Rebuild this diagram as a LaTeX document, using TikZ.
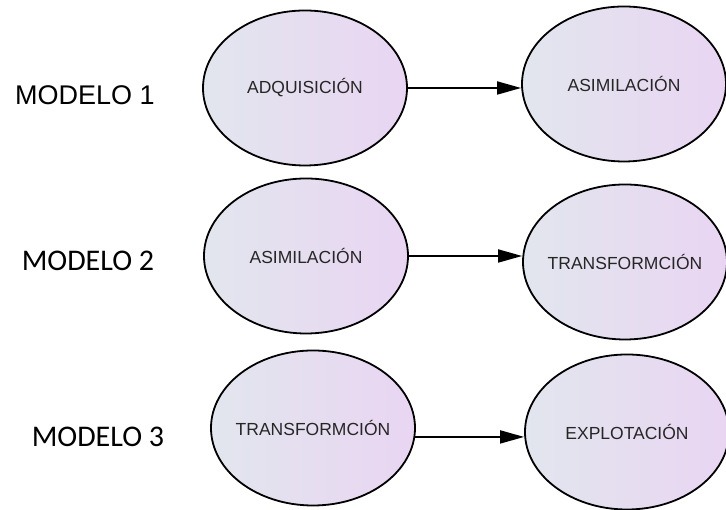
\documentclass[tikz,border=0pt]{standalone}
\usepackage{fontspec}
\setmainfont{Liberation Sans}
\newfontfamily\arialfont{Liberation Sans}
\newfontfamily\modfont{Carlito}
\usetikzlibrary{shapes.geometric,arrows.meta}
\definecolor{elipizq}{RGB}{226,230,238}
\definecolor{elipder}{RGB}{233,213,242}
\begin{document}
\begin{tikzpicture}[x=1pt,y=1pt]
\tikzset{fase/.style={ellipse,draw,line width=1.8pt,left color=elipizq,right color=elipder,minimum width=204pt,minimum height=155pt,inner xsep=-50pt,inner ysep=0pt,text=black!85,font=\arialfont\fontsize{17.5}{20}\selectfont},
flecha/.style={line width=1.8pt,-{Triangle[length=24pt,width=13pt]}},
modelo/.style={inner sep=0pt,font=\arialfont\fontsize{27}{32}\selectfont}}
\useasboundingbox (0,0) rectangle (726,510);
\node[modelo] (M1) at (85,415) {MODELO 1};
\node[modelo,font=\modfont\fontsize{30}{36}\selectfont] (M2) at (88,249) {MODELO 2};
\node[modelo,font=\modfont\fontsize{30}{36}\selectfont] (M3) at (98,73) {MODELO 3};
\node[fase] (A1) at (305,422) {ADQUISICIÓN};
\node[fase] (B1) at (624,426) {ASIMILACIÓN};
\node[fase] (A2) at (306,254) {ASIMILACIÓN};
\node[fase] (B2) at (625,248) {TRANSFORMCIÓN};
\node[fase] (A3) at (313,82) {TRANSFORMCIÓN};
\node[fase] (B3) at (627,78) {EXPLOTACIÓN};
\draw[flecha] (A1.east) -- (A1.east -| B1.west);
\draw[flecha] (A2.east) -- (A2.east -| B2.west);
\draw[flecha] (A3.-5) -- (A3.-5 -| B3.west);
\end{tikzpicture}
\end{document}
